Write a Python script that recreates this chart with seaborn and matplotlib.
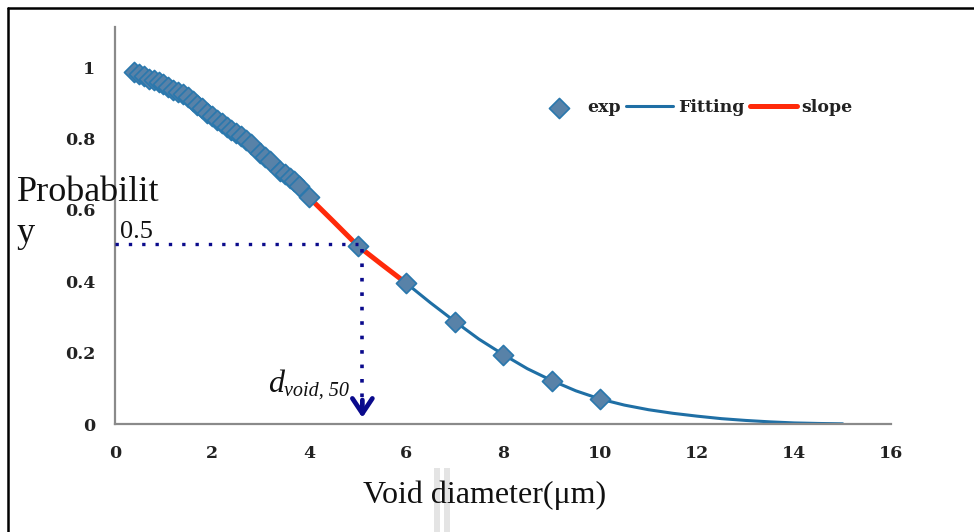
import matplotlib
matplotlib.use("Agg")
import matplotlib.pyplot as plt
from matplotlib.lines import Line2D
from matplotlib.patches import Rectangle
import seaborn as sns
import pandas as pd

# Measured survival probability vs void diameter
exp_x = [0.4, 0.5, 0.6, 0.7, 0.8, 0.9, 1.0, 1.1, 1.2, 1.3, 1.4, 1.5, 1.6, 1.7,
         1.8, 1.9, 2.0, 2.1, 2.2, 2.3, 2.4, 2.5, 2.6, 2.7, 2.8, 3.0, 3.1, 3.2,
         3.4, 3.5, 3.6, 3.7, 3.8, 4.0, 5.0, 6.0, 7.0, 8.0, 9.0, 10.0]
exp_p = [0.986, 0.980, 0.975, 0.968, 0.963, 0.958, 0.953, 0.944, 0.937, 0.930,
         0.924, 0.917, 0.905, 0.893, 0.885, 0.872, 0.862, 0.853, 0.842, 0.833,
         0.825, 0.815, 0.806, 0.795, 0.785, 0.758, 0.748, 0.738, 0.710, 0.700,
         0.690, 0.680, 0.668, 0.635, 0.500, 0.395, 0.286, 0.193, 0.120, 0.070]

# Fitted curve
fit_x = [0.4, 1.0, 1.5, 2.0, 2.5, 3.0, 3.5, 4.0, 4.5, 5.0, 5.5, 6.0, 6.5, 7.0,
         7.5, 8.0, 8.5, 9.0, 9.5, 10.0, 10.5, 11.0, 11.5, 12.0, 12.5, 13.0,
         13.5, 14.0, 14.5, 15.0]
fit_p = [0.986, 0.953, 0.917, 0.862, 0.815, 0.758, 0.700, 0.635, 0.568, 0.500,
         0.447, 0.395, 0.340, 0.288, 0.238, 0.195, 0.155, 0.122, 0.093, 0.070,
         0.053, 0.040, 0.030, 0.022, 0.015, 0.010, 0.006, 0.003, 0.0015, 0.0005]

# Slope section around the median
slope_x = [4.0, 4.5, 5.0, 5.5, 6.0]
slope_p = [0.635, 0.568, 0.500, 0.447, 0.395]

d50 = 5.0
p50 = 0.5

x_ticks = [0, 2, 4, 6, 8, 10, 12, 14, 16]
y_ticks = [0, 0.2, 0.4, 0.6, 0.8, 1.0]
y_tick_labels = ["0", "0.2", "0.4", "0.6", "0.8", "1"]

sns.set_theme(style="white")
plt.rcParams["font.family"] = ["Liberation Serif", "DejaVu Serif"]

fig = plt.figure(figsize=(9.74, 5.32), dpi=100)
ax = fig.add_axes([0.118, 0.203, 0.797, 0.746])

fit_df = pd.DataFrame({"d": fit_x, "p": fit_p})
slope_df = pd.DataFrame({"d": slope_x, "p": slope_p})
exp_df = pd.DataFrame({"d": exp_x, "p": exp_p})

sns.lineplot(data=fit_df, x="d", y="p", ax=ax, color="#1f6fa5", lw=2.2,
             sort=False, estimator=None, label="Fitting", zorder=2)
sns.lineplot(data=slope_df, x="d", y="p", ax=ax, color="#ff2a0a", lw=3.6,
             sort=False, estimator=None, label="slope", zorder=3)
sns.scatterplot(data=exp_df, x="d", y="p", ax=ax, marker="D", s=105,
                color="#5882a8", edgecolor="#2a78ad", linewidth=1.2,
                label="exp", zorder=4)

# Guide lines marking the median diameter
navy = "#0a0a8c"
ax.plot([0, d50], [p50 + 0.005, p50 + 0.005], color=navy, lw=2.4,
        ls=(0, (1, 3)), zorder=5)
ax.plot([d50 + 0.1, d50 + 0.1], [p50 - 0.01, 0.07], color=navy, lw=2.6,
        ls=(0, (1, 3)), zorder=5)
ax.annotate("", xy=(d50 + 0.1, 0.01), xytext=(d50 + 0.1, 0.075),
            arrowprops=dict(arrowstyle="->, head_length=0.9, head_width=0.6",
                            lw=3.4, color=navy), zorder=5)

ax.text(0.1, p50 + 0.008, "0.5", fontsize=19, color="#111111",
        ha="left", va="bottom")
# d_void,50 label: italic symbol with italic subscript
fig.text(0.275, 0.263, "d", fontsize=23, style="italic", color="#111111",
         ha="left", va="baseline")
fig.text(0.2915, 0.256, "void, 50", fontsize=14.5, style="italic",
         color="#111111", ha="left", va="baseline")

ax.set_xlim(0, 16)
ax.set_ylim(0, 1.112)
ax.set_xticks(x_ticks)
ax.set_yticks(y_ticks)
ax.set_yticklabels(y_tick_labels)
ax.tick_params(axis="both", length=0, labelsize=12.5, colors="#222222")
ax.tick_params(axis="x", pad=15)
ax.tick_params(axis="y", pad=14)
for lab in ax.get_xticklabels() + ax.get_yticklabels():
    lab.set_fontweight("bold")
    lab.set_family("DejaVu Serif")

for side in ("top", "right"):
    ax.spines[side].set_visible(False)
for side in ("left", "bottom"):
    ax.spines[side].set_color("#8a8a8a")
    ax.spines[side].set_linewidth(1.6)

ax.set_xlabel("")
ax.set_ylabel("")
fig.text(0.498, 0.07, "Void diameter(\u03bcm)", fontsize=23, ha="center",
         va="center", color="#111111")
fig.text(0.017, 0.638, "Probabilit", fontsize=26, ha="left", va="center",
         color="#111111")
fig.text(0.017, 0.562, "y", fontsize=26, ha="left", va="center",
         color="#111111")

handles, labels = ax.get_legend_handles_labels()
order = [labels.index(n) for n in ("exp", "Fitting", "slope")]
leg = ax.legend([handles[i] for i in order], [labels[i] for i in order],
                loc="center", bbox_to_anchor=(0.746, 0.797), ncol=3,
                frameon=False, handlelength=2.7, handletextpad=0.3,
                columnspacing=0.3,
                prop={"size": 12.5, "weight": "bold", "family": "DejaVu Serif"})
for t in leg.get_texts():
    t.set_color("#222222")

# Outer frame edges
fig.add_artist(Line2D([0.008, 0.008], [0, 0.985], transform=fig.transFigure,
                      color="black", lw=1.8))
fig.add_artist(Line2D([0.008, 1.0], [0.985, 0.985], transform=fig.transFigure,
                      color="black", lw=1.8))
# Faint marks in the lower margin
for x0 in (434, 444):
    fig.add_artist(Rectangle((x0 / 974, 0), 6 / 974, 64 / 532,
                             transform=fig.transFigure, color="#e4e4e4",
                             lw=0))

fig.savefig("out.png", dpi=100)
